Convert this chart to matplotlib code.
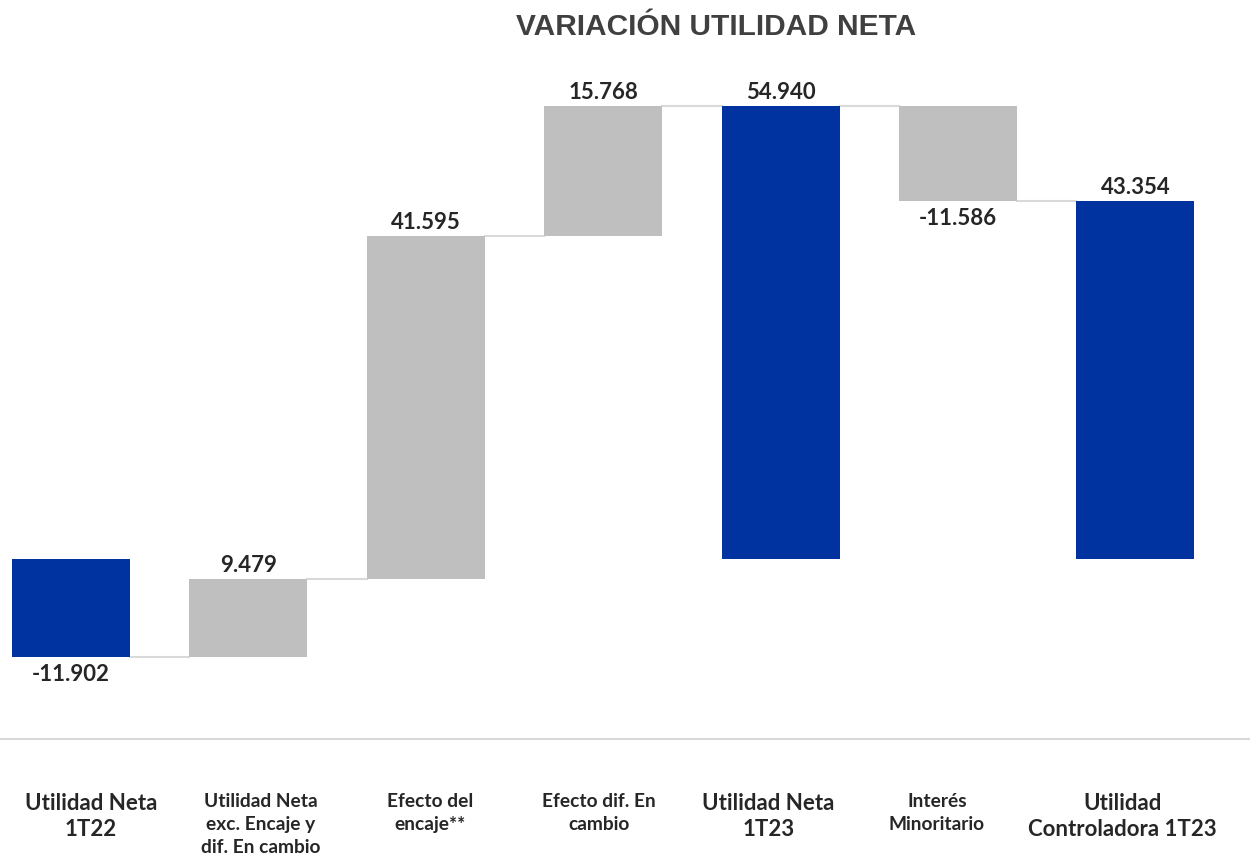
import matplotlib.pyplot as plt
import numpy as np

# data
categories = ['Utilidad Neta\n1T22', 'Utilidad Neta\nexc. Encaje y\ndif. En cambio',
              'Efecto del\nencaje**', 'Efecto dif. En\ncambio', 'Utilidad Neta\n1T23',
              'Interés\nMinoritario', 'Utilidad\nControladora 1T23']
values = [-11.902, 9.479, 41.595, 15.768, 54.940, -11.586, 43.354]
is_total = [True, False, False, False, True, False, True]
value_labels = ['-11.902', '9.479', '41.595', '15.768', '54.940', '-11.586', '43.354']

label_sizes = [16, 13.8, 13.8, 13.8, 16, 13.8, 16]
label_shift = [20, 12, 4, -4, -12, -21, -13]   # px, text boxes not centred on bars

blue = '#0033A0'
gray = '#BFBFBF'
txt = '#262626'
fam = ['Lato', 'DejaVu Sans']

fig = plt.figure(figsize=(12.5, 8.62), dpi=100)
ax = fig.add_axes([0, (862 - 740) / 862, 1, 740 / 862])

x = np.arange(len(values))
bottoms, heights = [], []
level = 0.0
for v, t in zip(values, is_total):
    if t:
        bottoms.append(0.0)
        heights.append(v)
        level = v
    else:
        bottoms.append(level)
        heights.append(v)
        level += v
colors = [blue if t else gray for t in is_total]
width = 0.665
ax.bar(x, heights, bottom=bottoms, width=width, color=colors, zorder=3)

# connectors
for i in range(len(values) - 1):
    end = bottoms[i] + heights[i]
    ax.plot([x[i] + width / 2, x[i + 1] - width / 2], [end, end],
            color='#D9D9D9', lw=1.5, zorder=2)

# value labels
for i in range(len(values)):
    top = max(bottoms[i], bottoms[i] + heights[i])
    bot = min(bottoms[i], bottoms[i] + heights[i])
    if values[i] >= 0:
        ax.annotate(value_labels[i], (x[i], top), xytext=(0, 3), textcoords='offset points',
                    ha='center', va='bottom', fontsize=16, fontweight='bold',
                    color=txt, family=fam)
    else:
        ax.annotate(value_labels[i], (x[i], bot), xytext=(0, -4), textcoords='offset points',
                    ha='center', va='top', fontsize=16, fontweight='bold',
                    color=txt, family=fam)

ymin, ymax = -21.82, 67.88
ax.set_xlim(-0.400, 6.646)
ax.set_ylim(ymin, ymax)
ax.set_yticks([])
ax.set_xticks([])
for s in ['top', 'right', 'left']:
    ax.spines[s].set_visible(False)
ax.spines['bottom'].set_color('#D9D9D9')
ax.spines['bottom'].set_linewidth(1.5)

for i, c in enumerate(categories):
    ls = 1.3 if label_sizes[i] > 15 else 1.42
    ax.annotate(c, (x[i], ymin), xytext=(label_shift[i] * 0.72, -38),
                textcoords='offset points', ha='center', va='top',
                fontsize=label_sizes[i], fontweight='bold', color=txt, family=fam,
                linespacing=ls, annotation_clip=False)

fig.text(716 / 1250, 1 - 27 / 862, 'VARIACIÓN UTILIDAD NETA', ha='center', va='center',
         fontsize=21.5, fontweight='bold', color='#404040',
         family=['Liberation Sans Narrow', 'Liberation Sans', 'DejaVu Sans'])

fig.savefig('out.png', dpi=100)
